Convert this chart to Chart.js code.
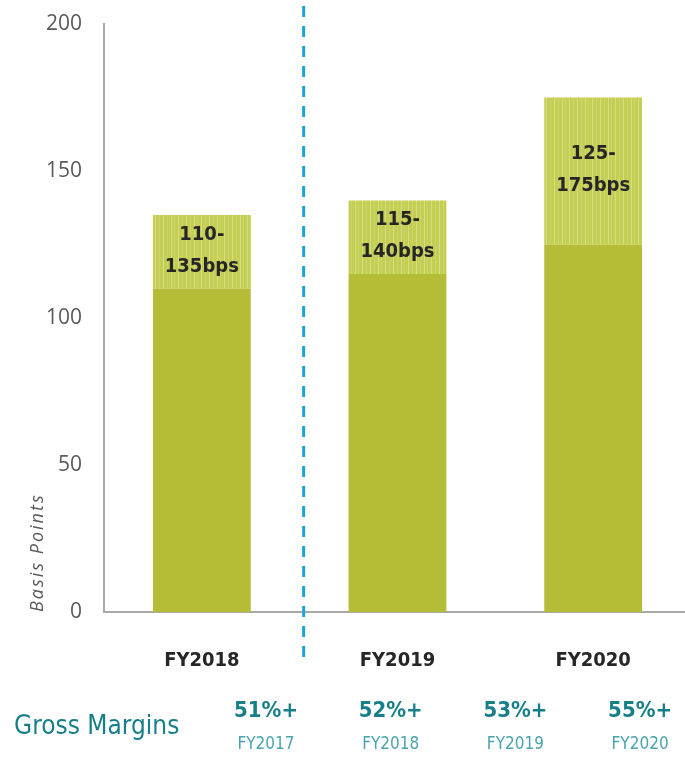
<!DOCTYPE html>
<html>
<head>
<meta charset="utf-8">
<script src="https://cdn.jsdelivr.net/npm/chart.js@4/dist/chart.umd.min.js"></script>
<style>
  html, body { margin: 0; padding: 0; background: #ffffff; overflow: hidden; }
  #wrap { width: 691px; height: 762px; position: relative; }
</style>
</head>
<body>
<div id="wrap"><canvas id="chart"></canvas></div>
<script>
// Guidance ranges (basis points) per fiscal year
const categories = ['FY2018', 'FY2019', 'FY2020'];
const rangeLow = [110, 115, 125];
const rangeHigh = [135, 140, 175];
const yTickStep = 50;
const yMax = 200;
const yTitle = 'Basis Points';

// Gross margin targets shown beneath the chart
const marginTitle = 'Gross Margins';
const marginValues = ['51%+', '52%+', '53%+', '55%+'];
const marginYears = ['FY2017', 'FY2018', 'FY2019', 'FY2020'];

const rangeSpan = rangeHigh.map((h, i) => h - rangeLow[i]);
const rangeLabels = rangeLow.map((l, i) => [l + '-', rangeHigh[i] + 'bps']);

const NARROW = '"DejaVu Sans Condensed", "Liberation Sans Narrow", sans-serif';
const SANS = '"Open Sans", "Noto Sans", sans-serif';

// Light vertical pin-stripe fill for the upper part of each bar
function stripePattern() {
  const c = document.createElement('canvas');
  c.width = 23; c.height = 8;
  const g = c.getContext('2d');
  g.fillStyle = '#c4ce52';
  g.fillRect(0, 0, c.width, c.height);
  g.fillStyle = '#d6dd86';
  [2, 10, 17].forEach(x => g.fillRect(x, 0, 1, c.height));
  g.fillStyle = '#ccd56a';
  [6, 13, 21].forEach(x => g.fillRect(x, 0, 1, c.height));
  return g.createPattern(c, 'repeat');
}

const rangeTextPlugin = {
  id: 'rangeText',
  afterDatasetsDraw(chart) {
    const ctx = chart.ctx;
    const meta = chart.getDatasetMeta(1);
    ctx.save();
    ctx.font = 'bold 20px ' + NARROW;
    ctx.fillStyle = '#262626';
    ctx.textAlign = 'center';
    ctx.textBaseline = 'middle';
    meta.data.forEach((bar, i) => {
      const p = bar.getProps(['x', 'y', 'base'], true);
      const cy = (p.y + p.base) / 2;
      const lines = rangeLabels[i];
      ctx.fillText(lines[0], p.x, cy - 17);
      ctx.fillText(lines[1], p.x, cy + 15);
    });
    ctx.restore();
  }
};

// Axis title, drawn rotated and sitting low beside the axis
const axisTitlePlugin = {
  id: 'axisTitle',
  afterDraw(chart) {
    const ctx = chart.ctx;
    const bottom = chart.chartArea.bottom;
    ctx.save();
    ctx.translate(38, bottom);
    ctx.rotate(-Math.PI / 2);
    ctx.font = 'italic 18px ' + SANS;
    ctx.letterSpacing = '2px';
    ctx.fillStyle = '#595959';
    ctx.textAlign = 'left';
    ctx.textBaseline = 'middle';
    ctx.fillText(yTitle, 0, 0);
    ctx.restore();
  }
};

// Dashed separator between the first and second fiscal years
const dividerPlugin = {
  id: 'divider',
  afterDraw(chart) {
    const ctx = chart.ctx;
    const x = chart.scales.x.getPixelForValue(0.5) + 4;
    ctx.save();
    ctx.strokeStyle = '#1fa2dc';
    ctx.lineWidth = 3;
    ctx.setLineDash([11, 9]);
    ctx.beginPath();
    ctx.moveTo(x, 6);
    ctx.lineTo(x, 664);
    ctx.stroke();
    ctx.restore();
  }
};

const marginRowPlugin = {
  id: 'marginRow',
  afterDraw(chart) {
    const ctx = chart.ctx;
    ctx.save();
    ctx.textBaseline = 'middle';
    ctx.fillStyle = '#177f88';
    ctx.font = '26px ' + NARROW;
    ctx.textAlign = 'left';
    ctx.fillText(marginTitle, 14, 727);
    ctx.textAlign = 'center';
    const x0 = 266, step = 124.7;
    marginValues.forEach((v, i) => {
      const x = x0 + i * step;
      ctx.fillStyle = '#177f88';
      ctx.font = 'bold 22px ' + NARROW;
      ctx.fillText(v, x, 711);
      ctx.fillStyle = '#4aa4ae';
      ctx.font = '17px ' + NARROW;
      ctx.fillText(marginYears[i], x, 745);
    });
    ctx.restore();
  }
};

new Chart(document.getElementById('chart'), {
  type: 'bar',
  data: {
    labels: categories,
    datasets: [
      {
        label: 'Low',
        data: rangeLow,
        backgroundColor: '#b4bd35',
        borderWidth: 0,
        categoryPercentage: 1,
        barPercentage: 0.5
      },
      {
        label: 'Range',
        data: rangeSpan,
        backgroundColor: stripePattern(),
        borderWidth: 0,
        categoryPercentage: 1,
        barPercentage: 0.5
      }
    ]
  },
  options: {
    responsive: true,
    maintainAspectRatio: false,
    animation: false,
    layout: { padding: { top: 24, right: 0, bottom: 0, left: 0 } },
    plugins: {
      legend: { display: false },
      tooltip: { enabled: false }
    },
    scales: {
      x: {
        stacked: true,
        grid: { display: false, drawTicks: false },
        border: { display: true, color: '#a8a8a8', width: 2 },
        ticks: {
          padding: 37,
          color: '#262626',
          font: { family: NARROW, size: 20, weight: 'bold' }
        },
        afterFit(scale) { scale.height = 150; }
      },
      y: {
        stacked: true,
        min: 0,
        max: yMax,
        grid: { display: false, drawTicks: false },
        border: { display: true, color: '#a8a8a8', width: 2 },
        ticks: {
          stepSize: yTickStep,
          padding: 22,
          color: '#595959',
          font: { family: SANS, size: 21 }
        },
        afterFit(scale) {
          scale.width = 104;
          scale.paddingTop = 4;
          scale.paddingBottom = 4;
        }
      }
    }
  },
  plugins: [rangeTextPlugin, axisTitlePlugin, dividerPlugin, marginRowPlugin]
});
</script>
</body>
</html>
